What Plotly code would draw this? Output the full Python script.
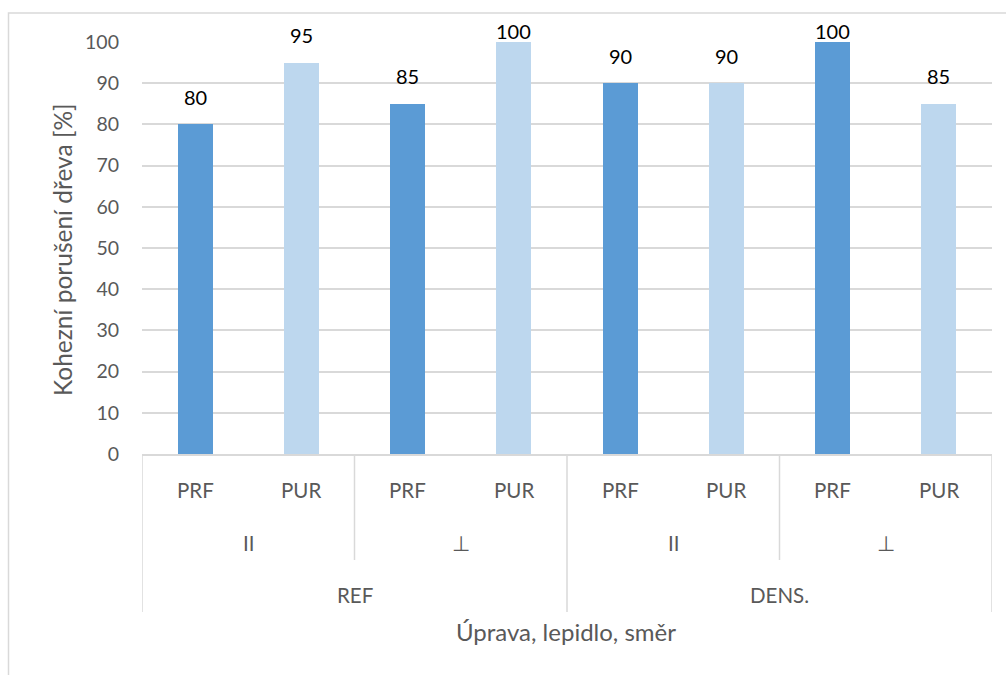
import plotly.graph_objects as go

# ---- data ----
treatment = ["REF", "REF", "REF", "REF", "DENS.", "DENS.", "DENS.", "DENS."]
direction = ["II", "II", "⊥", "⊥", "II", "II", "⊥", "⊥"]
glue = ["PRF", "PUR", "PRF", "PUR", "PRF", "PUR", "PRF", "PUR"]
values = [80, 95, 85, 100, 90, 90, 100, 85]
y_ticks = [0, 10, 20, 30, 40, 50, 60, 70, 80, 90, 100]
glue_colors = {"PRF": "#5B9BD5", "PUR": "#BDD7EE"}
y_title = "Kohezní porušení dřeva [%]"
x_title = "Úprava, lepidlo, směr"

FONT = "Lato, 'Open Sans', sans-serif"
GREY = "#595959"
LINE = "#D9D9D9"

W, H = 1006, 675
L, R, T, B = 142, 14, 42, 221
pw, ph = W - L - R, H - T - B
Y_MAX = 100

def py(pix):  # pixel y -> paper y
    return (H - B - pix) / ph

def px(pix):
    return (pix - L) / pw

xs = list(range(len(values)))

fig = go.Figure()
fig.add_trace(go.Bar(
    x=xs, y=values,
    marker=dict(color=[glue_colors[g] for g in glue], line=dict(width=0)),
    width=0.33,
    showlegend=False, hoverinfo="x+y",
))

annotations = []
shapes = []

# data labels (kept inside the chart area like Excel does)
unit_px = ph / Y_MAX
for i, v in enumerate(values):
    bar_top = T + (Y_MAX - v) * unit_px
    glyph_bottom = max(bar_top - 18.5, 40)
    gap = bar_top - glyph_bottom
    annotations.append(dict(x=i, y=v, xref="x", yref="y", text=str(v), yanchor="bottom",
                            xanchor="center", yshift=gap - 5, showarrow=False,
                            font=dict(family=FONT, size=20, color="#000000")))

def label(x, y, text, size, xref="x", angle=0):
    annotations.append(dict(x=x, y=y, xref=xref, yref="paper", text=text, textangle=angle,
                            xanchor="center", yanchor="middle", showarrow=False,
                            font=dict(family=FONT, size=size, color=GREY)))

# level 1 labels (glue)
for i, g in enumerate(glue):
    label(i, py(490), g, 20.5)

def groups(keys):
    out = []
    start = 0
    for i in range(1, len(keys) + 1):
        if i == len(keys) or keys[i] != keys[start]:
            out.append((start, i - 1, keys[start]))
            start = i
    return out

lvl2 = groups([t + "|" + d for t, d in zip(treatment, direction)])
for s, e, k in lvl2:
    label((s + e) / 2, py(543), k.split("|")[1], 20.5)
lvl3 = groups(treatment)
for s, e, k in lvl3:
    label((s + e) / 2, py(595), k, 20.5)

# separators
long_b = set([s - 0.5 for s, e, k in lvl3] + [e + 0.5 for s, e, k in lvl3])
short_b = set([s - 0.5 for s, e, k in lvl2] + [e + 0.5 for s, e, k in lvl2]) - long_b
for b in sorted(long_b):
    shapes.append(dict(type="line", xref="x", yref="paper", x0=b, x1=b, y0=0, y1=py(612),
                       line=dict(color=LINE, width=1.5)))
for b in sorted(short_b):
    shapes.append(dict(type="line", xref="x", yref="paper", x0=b, x1=b, y0=0, y1=py(560),
                       line=dict(color=LINE, width=1.5)))

# outer chart border
shapes.append(dict(type="rect", xref="paper", yref="paper", x0=px(8.5), x1=px(1040),
                   y0=py(700), y1=py(13), line=dict(color=LINE, width=1.5), layer="below"))

label(px(566), py(631), x_title, 24, xref="paper")
label(px(62), py(250), y_title, 24.5, xref="paper", angle=-90)

fig.update_layout(
    width=W, height=H,
    margin=dict(l=L, r=R, t=T, b=B),
    paper_bgcolor="white", plot_bgcolor="white",
    xaxis=dict(range=[-0.5, len(values) - 0.5], showticklabels=False, showgrid=False,
               zeroline=False, showline=True, linecolor=LINE, linewidth=1.5, ticks=""),
    yaxis=dict(range=[0, Y_MAX], tickvals=y_ticks, showgrid=True, gridcolor=LINE, gridwidth=1.5,
               zeroline=False, showline=False, ticks="", ticklabelstandoff=22,
               tickfont=dict(family=FONT, size=19.5, color=GREY)),
    annotations=annotations, shapes=shapes,
    bargap=0,
)

fig.write_html("out.html", config={"displayModeBar": False},
               post_script="document.body.style.margin='0';document.body.style.overflow='hidden';")
